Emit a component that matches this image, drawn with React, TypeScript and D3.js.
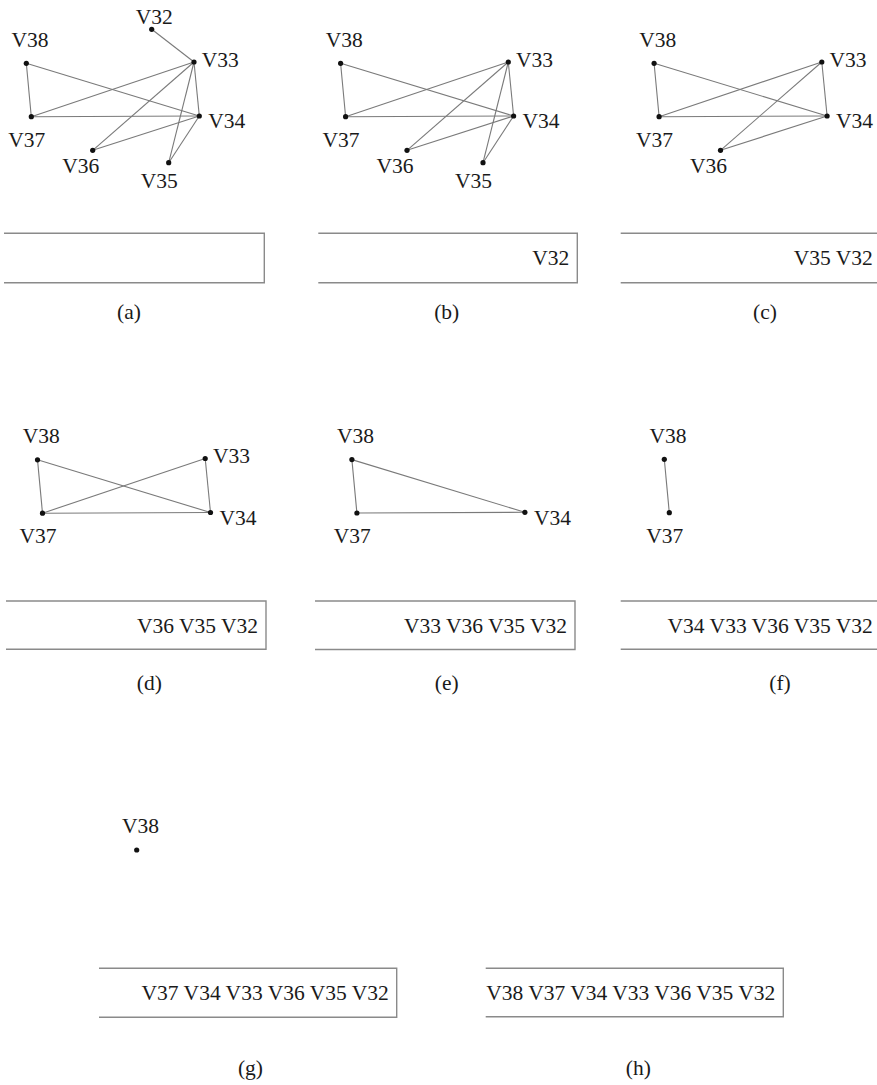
import React from "react";
import * as d3 from "d3";

// ---- Graph data ----
const nodeNames = ["V32", "V33", "V34", "V35", "V36", "V37", "V38"];
// layout coordinates of each node (graph layout units)
const nodeX = [151.7, 194, 199.3, 168.7, 92.7, 31.3, 26.3];
const nodeY = [29.3, 62, 116, 162.7, 150.3, 116.7, 63.3];
const edgeSource = ["V32", "V38", "V38", "V37", "V37", "V33", "V33", "V33", "V34", "V34"];
const edgeTarget = ["V33", "V37", "V34", "V33", "V34", "V36", "V35", "V34", "V36", "V35"];
// order in which vertices are removed (pushed into the box)
const removalOrder = ["V32", "V35", "V36", "V33", "V34", "V37", "V38"];
const captions = ["(a)", "(b)", "(c)", "(d)", "(e)", "(f)", "(g)", "(h)"];

// ---- Layout (positions / styles) ----
const W = 877;
const H = 1085;
const FONT = "Liberation Serif";
const FS = 21.5;

const labelOffset: Record<string, { dx: number; dy: number; anchor: string }> = {
  V32: { dx: 2.5, dy: -5, anchor: "middle" },
  V33: { dx: 7.7, dy: 4.7, anchor: "start" },
  V34: { dx: 9, dy: 12.3, anchor: "start" },
  V35: { dx: -9.5, dy: 25.6, anchor: "middle" },
  V36: { dx: -11.9, dy: 23, anchor: "middle" },
  V37: { dx: -4.6, dy: 30, anchor: "middle" },
  V38: { dx: 3.7, dy: -16.6, anchor: "middle" },
};

const panelLayout = [
  { ox: 0, oy: 0, box: [4, 264.3, 233.3, 282.7], cap: [129, 319] },
  { ox: 314.3, oy: 0, box: [318.3, 577.3, 233.3, 282.7], cap: [446.7, 319] },
  { ox: 627.8, oy: 0, box: [620.7, 880.7, 233.3, 282.7], cap: [765, 319] },
  { ox: 11.2, oy: 396.5, box: [6, 266, 601, 649.3], cap: [149.3, 690] },
  { ox: 325.6, oy: 396.3, box: [315, 575, 601, 649.5], cap: [446.7, 690] },
  { ox: 638, oy: 396, box: [620.7, 880.7, 601, 649.3], cap: [780, 690] },
  { ox: 110.4, oy: 786.7, box: [99, 396.7, 968.3, 1017.3], cap: [250.5, 1075] },
  { ox: 0, oy: 0, box: [485.7, 783.3, 968.3, 1016.7], cap: [638.3, 1075] },
];

const textStyle = { fontFamily: FONT, fontSize: FS } as React.CSSProperties;

function Panel({ index }: { index: number }) {
  const L = panelLayout[index];
  const removed = removalOrder.slice(0, index);
  const present = nodeNames.filter((n) => !removed.includes(n));
  const x = d3.scaleLinear().domain([0, 100]).range([L.ox, L.ox + 100]);
  const y = d3.scaleLinear().domain([0, 100]).range([L.oy, L.oy + 100]);
  const pos = (n: string) => {
    const i = nodeNames.indexOf(n);
    return [x(nodeX[i]), y(nodeY[i])];
  };
  const edges = edgeSource
    .map((s, i) => [s, edgeTarget[i]])
    .filter(([s, t]) => present.includes(s) && present.includes(t));
  const [bl, br, bt, bb] = L.box;
  const boxPath = d3.path();
  boxPath.moveTo(bl, bt);
  boxPath.lineTo(br, bt);
  boxPath.lineTo(br, bb);
  boxPath.lineTo(bl, bb);
  const boxText = removed.slice().reverse().join(" ");
  return (
    <g>
      {edges.map(([s, t], i) => {
        const [x1, y1] = pos(s);
        const [x2, y2] = pos(t);
        return <line key={i} x1={x1} y1={y1} x2={x2} y2={y2} stroke="#7a7a7a" strokeWidth={1.1} />;
      })}
      {present.map((n) => {
        const [cx, cy] = pos(n);
        const o = labelOffset[n];
        return (
          <g key={n}>
            <circle cx={cx} cy={cy} r={2.6} fill="#111" />
            <text x={cx + o.dx} y={cy + o.dy} textAnchor={o.anchor as any} style={textStyle} fill="#1a1a1a">
              {n}
            </text>
          </g>
        );
      })}
      <path d={boxPath.toString()} fill="none" stroke="#8a8a8a" strokeWidth={1.4} />
      {boxText && (
        <text x={br - 8} y={bt + 32} textAnchor="end" style={textStyle} fill="#1a1a1a">
          {boxText}
        </text>
      )}
      <text x={L.cap[0]} y={L.cap[1]} textAnchor="middle" style={textStyle} fill="#1a1a1a">
        {captions[index]}
      </text>
    </g>
  );
}

export default function App() {
  return (
    <svg
      width={W}
      height={H}
      viewBox={`0 0 ${W} ${H}`}
      style={{ position: "absolute", left: 0, top: 0, display: "block", background: "#fff" }}
    >
      <rect width={W} height={H} fill="#fff" />
      {captions.map((_, i) => (
        <Panel key={i} index={i} />
      ))}
    </svg>
  );
}
